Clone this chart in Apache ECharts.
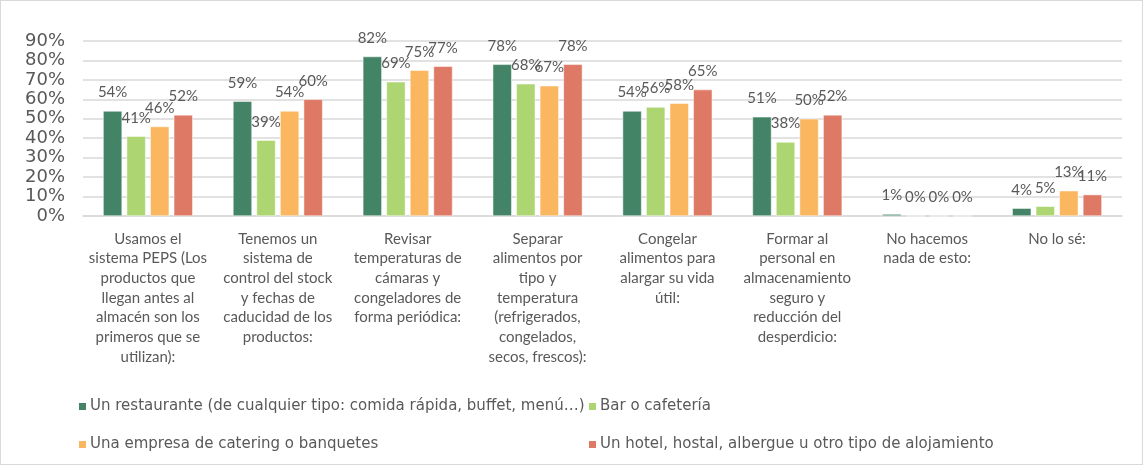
<!DOCTYPE html>
<html>
<head>
<meta charset="utf-8">
<script src="https://cdn.jsdelivr.net/npm/echarts@6/dist/echarts.min.js"></script>
<style>
  html, body { margin: 0; padding: 0; background: #fff; }
  #chart { width: 1143px; height: 465px; box-sizing: border-box; border: 1px solid #d9d9d9; }
</style>
</head>
<body>
<div id="chart"></div>
<script>
const categories = [
  'Usamos el\nsistema PEPS (Los\nproductos que\nllegan antes al\nalmacén son los\nprimeros que se\nutilizan):',
  'Tenemos un\nsistema de\ncontrol del stock\ny fechas de\ncaducidad de los\nproductos:',
  'Revisar\ntemperaturas de\ncámaras y\ncongeladores de\nforma periódica:',
  'Separar\nalimentos por\ntipo y\ntemperatura\n(refrigerados,\ncongelados,\nsecos, frescos):',
  'Congelar\nalimentos para\nalargar su vida\nútil:',
  'Formar al\npersonal en\nalmacenamiento\nseguro y\nreducción del\ndesperdicio:',
  'No hacemos\nnada de esto:',
  'No lo sé:'
];

const seriesNames = [
  'Un restaurante (de cualquier tipo: comida rápida, buffet, menú…)',
  'Bar o cafetería',
  'Una empresa de catering o banquetes',
  'Un hotel, hostal, albergue u otro tipo de alojamiento'
];

const restaurante = [54, 59, 82, 78, 54, 51, 1, 4];
const bar = [41, 39, 69, 68, 56, 38, 0, 5];
const catering = [46, 54, 75, 67, 58, 50, 0, 13];
const hotel = [52, 60, 77, 78, 65, 52, 0, 11];

const colors = ['#438467', '#add672', '#fbb660', '#de7965'];
const font = 'Lato, "Open Sans", sans-serif';
const legendFont = '"DejaVu Sans", sans-serif';
const textColor = '#595959';

const chart = echarts.init(document.getElementById('chart'));

const makeSeries = (name, data, i) => ({
  name: name,
  type: 'bar',
  data: data,
  barWidth: 19,
  barGap: '24%',
  itemStyle: { color: colors[i], borderColor: '#fff', borderWidth: 0.5 },
  label: {
    show: true,
    position: 'top',
    distance: 11,
    formatter: '{c}%',
    color: textColor,
    fontFamily: font,
    fontSize: 15
  }
});

const legendBase = {
  orient: 'vertical',
  top: 398,
  padding: 0,
  itemWidth: 9, itemHeight: 9, itemGap: 23,
  icon: 'rect',
  textStyle: { color: textColor, fontFamily: legendFont, fontSize: 15, padding: [0, 0, 0, -2] }
};

chart.setOption({
  animation: false,
  color: colors,
  grid: { left: 82, right: 20, top: 40, bottom: 248, containLabel: false },
  legend: [
    Object.assign({}, legendBase, { left: 76, data: [seriesNames[0], seriesNames[2]] }),
    Object.assign({}, legendBase, { left: 586, data: [seriesNames[1], seriesNames[3]] })
  ],
  xAxis: {
    type: 'category',
    data: categories,
    axisTick: { show: false },
    axisLine: { lineStyle: { color: '#d9d9d9', width: 1.5 } },
    axisLabel: {
      interval: 0,
      color: textColor,
      fontFamily: font,
      fontSize: 15,
      lineHeight: 19.7,
      margin: 13,
      align: 'center'
    }
  },
  yAxis: {
    type: 'value',
    min: 0,
    max: 90,
    interval: 10,
    axisLine: { show: false },
    axisTick: { show: false },
    splitLine: { lineStyle: { color: '#d9d9d9', width: 1.5 } },
    axisLabel: {
      formatter: '{value}%',
      color: textColor,
      fontFamily: legendFont,
      fontSize: 18,
      margin: 18,
      showMinLabel: true,
      showMaxLabel: true
    }
  },
  series: [
    makeSeries(seriesNames[0], restaurante, 0),
    makeSeries(seriesNames[1], bar, 1),
    makeSeries(seriesNames[2], catering, 2),
    makeSeries(seriesNames[3], hotel, 3)
  ]
});
</script>
</body>
</html>
